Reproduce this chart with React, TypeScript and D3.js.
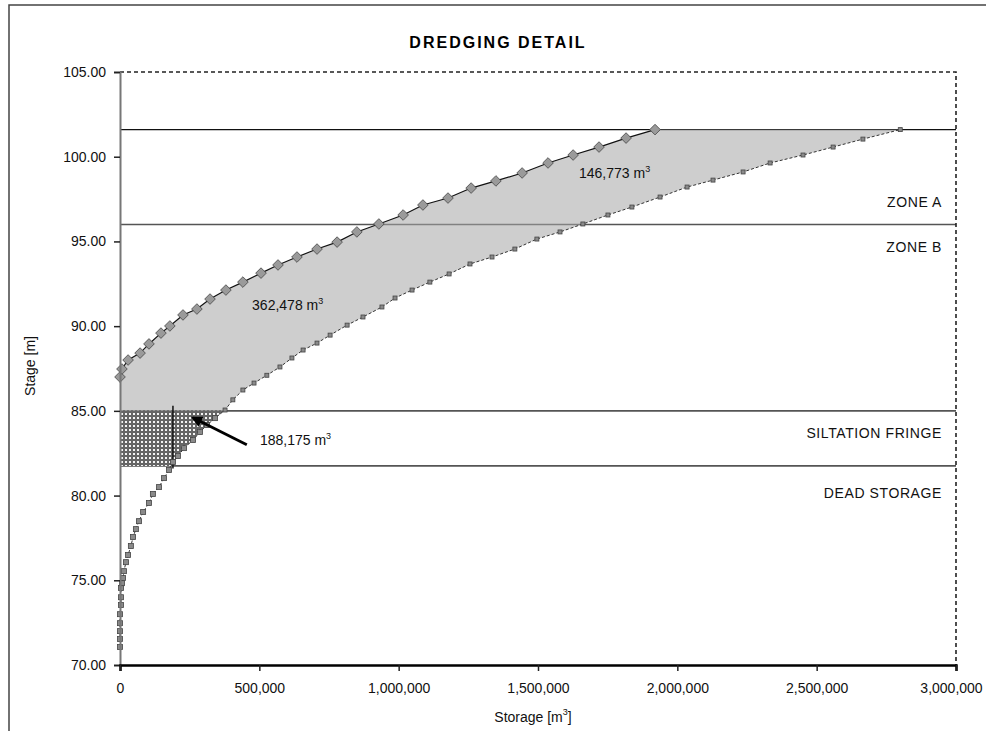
import React, { useEffect, useRef } from 'react';
import * as d3 from 'd3';

// stage-storage after dredging (diamonds)
const upperStorage = [0, 7000, 29000, 72000, 104000, 147000, 179000, 226000, 276000, 323000, 380000, 441000, 506000, 567000, 635000, 707000, 779000, 850000, 929000, 1016000, 1087000, 1177000, 1260000, 1349000, 1443000, 1536000, 1626000, 1719000, 1816000, 1920000];
const upperStage = [87.0, 87.47, 88.0, 88.41, 88.95, 89.59, 90.01, 90.66, 91.01, 91.6, 92.13, 92.6, 93.13, 93.61, 94.08, 94.55, 94.96, 95.56, 96.03, 96.56, 97.15, 97.56, 98.15, 98.57, 99.04, 99.63, 100.1, 100.57, 101.1, 101.6];

// original stage-storage (squares)
const lowerStorage = [0, 0, 0, 0, 0, 3600, 3600, 3600, 7000, 11000, 14000, 21500, 29000, 39000, 47000, 57000, 68000, 83000, 104000, 118000, 140000, 158000, 176000, 190000, 208000, 230000, 262000, 287000, 312000, 341000, 377000, 405000, 441000, 481000, 527000, 574000, 617000, 657000, 707000, 754000, 815000, 872000, 940000, 987000, 1048000, 1112000, 1181000, 1256000, 1335000, 1417000, 1496000, 1579000, 1661000, 1751000, 1837000, 1938000, 2035000, 2128000, 2236000, 2333000, 2451000, 2559000, 2666000, 2800000];
const lowerStage = [71.06, 71.53, 72.0, 72.47, 73.0, 73.54, 74.0, 74.54, 74.83, 75.13, 75.54, 76.07, 76.49, 77.02, 77.55, 78.02, 78.49, 79.03, 79.56, 80.09, 80.5, 81.03, 81.51, 81.98, 82.33, 82.8, 83.28, 83.75, 84.16, 84.57, 85.05, 85.65, 86.23, 86.64, 87.1, 87.59, 88.12, 88.59, 89.0, 89.47, 90.06, 90.54, 91.13, 91.66, 92.13, 92.6, 93.08, 93.67, 94.08, 94.55, 95.14, 95.56, 96.03, 96.56, 97.03, 97.62, 98.21, 98.62, 99.1, 99.63, 100.1, 100.57, 101.04, 101.6];

const levelLines = [101.6, 96.0, 85.0, 81.75];
const yTicks = [70, 75, 80, 85, 90, 95, 100, 105];
const xTicks = [0, 500000, 1000000, 1500000, 2000000, 2500000, 3000000];
const volumeLabels = ['146,773', '362,478', '188,175'];
const volumeStorage = [1647000, 474000, 502000];
const volumeStage = [98.74, 90.95, 82.98];
const dredgeLimit = 190000;
const arrowFrom = [455000, 83.0];
const arrowTo = [262000, 84.6];

const FONT = '"Liberation Sans", Arial, sans-serif';

export default function App() {
	const ref = useRef(null);
	useEffect(() => {
		if (ref.current) drawChart(ref.current);
	}, []);
	return <svg ref={ref} width={986} height={731} style={{ position: 'absolute', left: 0, top: 0, background: '#fff' }} />;
}

const drawChart = (element) => {
	const svg = d3.select(element);
	svg.selectAll('*').remove();
	svg.attr('font-family', FONT);

	const x = d3.scaleLinear().domain([0, 3000000]).range([120, 956]);
	const y = d3.scaleLinear().domain([70, 105]).range([665, 72]);

	const defs = svg.append('defs');
	const mesh = defs.append('pattern').attr('id', 'mesh').attr('width', 4).attr('height', 4).attr('patternUnits', 'userSpaceOnUse');
	mesh.append('rect').attr('width', 4).attr('height', 4).attr('fill', '#666');
	mesh.append('rect').attr('x', 1).attr('y', 1).attr('width', 2).attr('height', 2).attr('fill', '#f4f4f4');
	defs.append('clipPath').attr('id', 'above').append('rect')
		.attr('x', x(0)).attr('y', y(105)).attr('width', x(3000000) - x(0)).attr('height', y(85) - y(105));
	defs.append('clipPath').attr('id', 'band').append('rect')
		.attr('x', x(0)).attr('y', y(85)).attr('width', x(3000000) - x(0)).attr('height', y(81.75) - y(85));
	defs.append('marker').attr('id', 'head').attr('viewBox', '0 0 10 10').attr('refX', 8).attr('refY', 5)
		.attr('markerWidth', 4).attr('markerHeight', 4).attr('orient', 'auto')
		.append('path').attr('d', 'M0,0 L10,5 L0,10 Z').attr('fill', '#000');

	// outer frame (cropped)
	svg.append('path').attr('d', 'M9,740 L9,5 L990,5').attr('fill', 'none').attr('stroke', '#444').attr('stroke-width', 1.5);

	svg.append('text').attr('x', 498).attr('y', 48).attr('text-anchor', 'middle')
		.attr('font-size', 16).attr('font-weight', 'bold').attr('letter-spacing', 2).text('DREDGING DETAIL');

	// horizontal level lines
	svg.selectAll('line.level').data(levelLines).enter().append('line')
		.attr('x1', x(0)).attr('x2', x(3000000)).attr('y1', (d) => y(d)).attr('y2', (d) => y(d))
		.attr('stroke', (d, i) => (i === 0 ? '#111' : '#555')).attr('stroke-width', (d, i) => (i === 0 ? 1.2 : 1.6));

	const upper = upperStorage.map((s, i) => [s, upperStage[i]]);
	const lower = lowerStorage.map((s, i) => [s, lowerStage[i]]);
	const line = d3.line().x((d) => x(d[0])).y((d) => y(d[1]));

	// light fill between curves above siltation fringe
	const region = upper.concat(lower.slice().reverse());
	svg.append('path').attr('d', line(region) + 'Z').attr('fill', '#a6a6a6').attr('fill-opacity', 0.55).attr('clip-path', 'url(#above)');

	// siltation fringe mesh
	const fringe = [[0, 70]].concat(lower).concat([[0, 105]]);
	svg.append('path').attr('d', line(fringe) + 'Z').attr('fill', 'url(#mesh)').attr('clip-path', 'url(#band)');

	svg.append('line').attr('x1', x(dredgeLimit)).attr('x2', x(dredgeLimit)).attr('y1', y(85.3)).attr('y2', y(81.6))
		.attr('stroke', '#111').attr('stroke-width', 1.5);

	// curves
	svg.append('path').attr('d', line(lower)).attr('fill', 'none').attr('stroke', '#333').attr('stroke-width', 1).attr('stroke-dasharray', '3,2');
	svg.append('path').attr('d', line(upper)).attr('fill', 'none').attr('stroke', '#111').attr('stroke-width', 1.2);

	svg.selectAll('rect.sq').data(lower).enter().append('rect')
		.attr('x', (d) => x(d[0]) - (d[1] < 85 ? 2.5 : 2))
		.attr('y', (d) => y(d[1]) - (d[1] < 85 ? 2.5 : 2))
		.attr('width', (d) => (d[1] < 85 ? 5 : 4)).attr('height', (d) => (d[1] < 85 ? 5 : 4))
		.attr('fill', '#8a8a8a').attr('stroke', '#444').attr('stroke-width', 0.8);

	const diamond = d3.symbol().type(d3.symbolDiamond2).size(72);
	svg.selectAll('path.dm').data(upper).enter().append('path')
		.attr('d', diamond).attr('transform', (d) => `translate(${x(d[0])},${y(d[1])})`)
		.attr('fill', '#9a9a9a').attr('stroke', '#444').attr('stroke-width', 0.8);

	// arrow
	svg.append('line').attr('x1', x(arrowFrom[0])).attr('y1', y(arrowFrom[1])).attr('x2', x(arrowTo[0])).attr('y2', y(arrowTo[1]))
		.attr('stroke', '#000').attr('stroke-width', 2.8).attr('marker-end', 'url(#head)');

	// volume labels
	const vl = svg.selectAll('text.vol').data(volumeLabels).enter().append('text')
		.attr('x', (d, i) => x(volumeStorage[i])).attr('y', (d, i) => y(volumeStage[i]))
		.attr('font-size', 14).attr('fill', '#111');
	vl.append('tspan').text((d) => `${d} m`);
	vl.append('tspan').attr('dy', -6).attr('font-size', 9).text('3');

	// zone labels
	const zones = [
		['ZONE A', y(96.0) - 17],
		['ZONE B', y(96.0) + 28],
		['SILTATION FRINGE', y(85.0) + 27],
		['DEAD STORAGE', y(81.75) + 32],
	];
	svg.selectAll('text.zone').data(zones).enter().append('text')
		.attr('x', 942).attr('y', (d) => d[1]).attr('text-anchor', 'end')
		.attr('font-size', 14).attr('letter-spacing', 0.6).attr('fill', '#111').text((d) => d[0]);

	// plot border (dashed top and right)
	svg.append('path').attr('d', `M${x(0)},${y(105)} L${x(3000000)},${y(105)} L${x(3000000)},${y(70)}`)
		.attr('fill', 'none').attr('stroke', '#222').attr('stroke-width', 1.6).attr('stroke-dasharray', '4,3');

	// y axis
	const yAxis = svg.append('g').attr('transform', `translate(${x(0)},0)`)
		.call(d3.axisLeft(y).tickValues(yTicks).tickFormat(d3.format('.2f')).tickSize(6).tickPadding(8));
	yAxis.select('.domain').attr('stroke', '#777').attr('stroke-width', 2);
	yAxis.selectAll('line').attr('stroke', '#222').attr('stroke-width', 1.5);
	yAxis.selectAll('text').attr('font-size', 14).attr('font-family', FONT).attr('fill', '#111');

	// x axis
	const xAxis = svg.append('g').attr('transform', `translate(0,${y(70)})`)
		.call(d3.axisBottom(x).tickValues(xTicks).tickFormat(d3.format(',')).tickSize(6).tickPadding(12));
	xAxis.select('.domain').attr('stroke', '#000').attr('stroke-width', 2.5);
	xAxis.selectAll('line').attr('stroke', '#222').attr('stroke-width', 1.5);
	xAxis.selectAll('text').attr('font-size', 14).attr('font-family', FONT).attr('fill', '#111')
		.attr('dx', (d) => (d === 3000000 ? -5 : 0));

	// axis titles
	svg.append('text').attr('transform', 'translate(35,366) rotate(-90)').attr('text-anchor', 'middle')
		.attr('font-size', 14).attr('fill', '#111').text('Stage [m]');
	const xt = svg.append('text').attr('x', 533).attr('y', 722).attr('text-anchor', 'middle').attr('font-size', 14).attr('fill', '#111');
	xt.append('tspan').text('Storage [m');
	xt.append('tspan').attr('dy', -7).attr('font-size', 9).text('3');
	xt.append('tspan').attr('dy', 7).text(']');
};
